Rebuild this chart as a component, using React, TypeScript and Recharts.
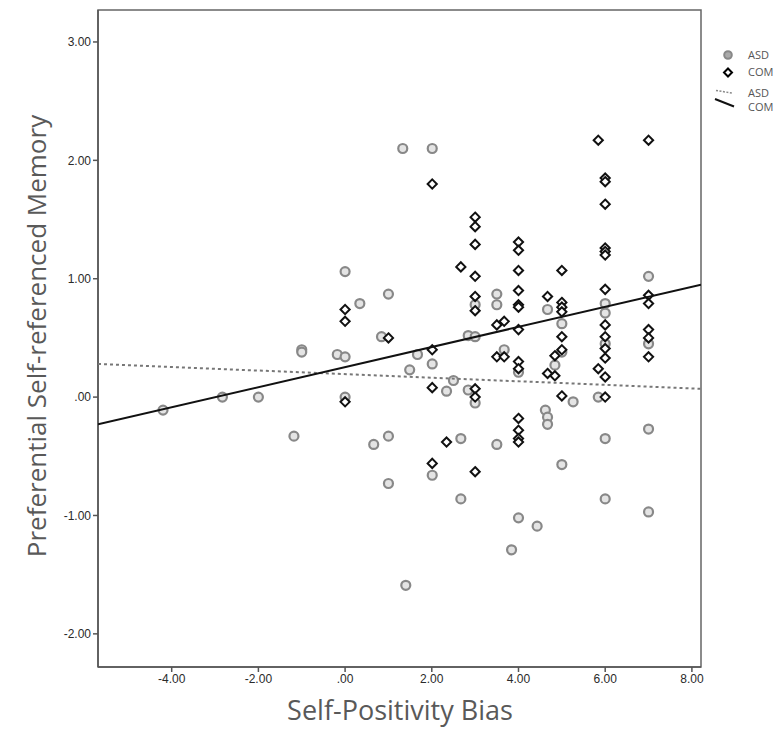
import { ScatterChart, Scatter, XAxis, YAxis, ReferenceArea } from "recharts";

// ASD group (grey circles)
const asdX = [-4.2, -2.83, -2.0, -1.18, -1.0, -1.0, -0.18, 0.0, 0.0, 0.0, 0.34, 0.66, 0.84, 1.0, 1.0, 1.0, 1.33, 2.01, 1.4, 1.49, 1.67, 2.01, 2.01, 2.34, 2.5, 2.67, 2.67, 2.84, 3.0, 2.84, 3.0, 3.0, 3.5, 3.5, 3.67, 3.5, 4.0, 3.84, 4.0, 4.43, 4.62, 4.67, 4.67, 4.67, 4.84, 5.0, 5.0, 5.0, 5.26, 5.84, 6.0, 6.0, 6.0, 6.0, 6.0, 7.0, 7.0, 7.0, 7.0];
const asdY = [-0.11, 0.0, 0.0, -0.33, 0.4, 0.38, 0.36, 0.34, 1.06, 0.0, 0.79, -0.4, 0.51, 0.87, -0.33, -0.73, 2.1, 2.1, -1.59, 0.23, 0.36, 0.28, -0.66, 0.05, 0.14, -0.35, -0.86, 0.52, 0.51, 0.06, -0.05, 0.78, 0.87, 0.78, 0.4, -0.4, 0.21, -1.29, -1.02, -1.09, -0.11, -0.17, -0.23, 0.74, 0.27, 0.62, 0.38, -0.57, -0.04, 0.0, 0.79, 0.71, 0.45, -0.35, -0.86, 1.02, 0.45, -0.27, -0.97];

// COM group (diamonds)
const comX = [0.0, 0.0, 0.0, 1.0, 2.01, 2.01, 2.01, 2.01, 2.34, 2.67, 3.0, 3.0, 3.0, 3.0, 3.0, 3.0, 3.0, 3.0, 3.0, 3.5, 3.67, 3.5, 3.67, 4.0, 4.0, 4.0, 4.0, 4.0, 4.0, 4.0, 4.0, 4.0, 4.0, 4.0, 4.0, 4.0, 4.67, 4.67, 4.84, 4.84, 5.0, 5.0, 5.0, 5.0, 5.0, 5.0, 5.0, 5.84, 5.84, 6.0, 6.0, 6.0, 6.0, 6.0, 6.0, 6.0, 6.0, 6.0, 6.0, 6.0, 6.0, 6.0, 7.0, 7.0, 7.0, 7.0, 7.0, 7.0];
const comY = [0.74, 0.64, -0.04, 0.5, 1.8, 0.4, 0.08, -0.56, -0.38, 1.1, 1.52, 1.44, 1.29, 1.02, 0.85, 0.73, 0.07, 0.0, -0.63, 0.61, 0.64, 0.34, 0.34, 1.31, 1.24, 1.07, 0.9, 0.78, 0.76, 0.57, 0.3, 0.24, -0.18, -0.28, -0.35, -0.38, 0.85, 0.2, 0.35, 0.18, 1.07, 0.8, 0.76, 0.72, 0.51, 0.4, 0.01, 2.17, 0.24, 1.85, 1.82, 1.63, 1.26, 1.23, 1.2, 0.91, 0.61, 0.51, 0.41, 0.33, 0.17, 0.0, 2.17, 0.86, 0.79, 0.57, 0.5, 0.34];

// fit lines (end points at the plot edges)
const fitX = [-5.7, 8.21];
const asdFitY = [0.28, 0.07];
const comFitY = [-0.23, 0.95];

const xTicks = [-4, -2, 0, 2, 4, 6, 8];
const yTicks = [-2, -1, 0, 1, 2, 3];
const xDomain = [-5.7, 8.21];
const yDomain = [-2.28, 3.27];

const asdData = asdX.map((x, i) => ({ x, y: asdY[i] }));
const comData = comX.map((x, i) => ({ x, y: comY[i] }));
const asdFit = fitX.map((x, i) => ({ x, y: asdFitY[i] }));
const comFit = fitX.map((x, i) => ({ x, y: comFitY[i] }));

const fmt = (v: number) => (v === 0 ? ".00" : v.toFixed(2));

const Circle = (p: any) => (
  <circle cx={p.cx} cy={p.cy} r={4.5} fill="#e4e4e4" stroke="#888" strokeWidth={2.2} />
);

const Diamond = (p: any) => {
  const { cx, cy } = p;
  const d = 4.6;
  return (
    <polygon
      points={`${cx},${cy - d} ${cx + d},${cy} ${cx},${cy + d} ${cx - d},${cy}`}
      fill="#fff"
      stroke="#111"
      strokeWidth={2}
    />
  );
};

const font = "'Open Sans', 'Noto Sans', sans-serif";
const tickStyle = { fontSize: 12, fill: "#2a2a2a", fontFamily: "Arial, 'Liberation Sans', sans-serif" };

export default function App() {
  return (
    <div style={{ position: "absolute", left: 0, top: 0, width: 778, height: 739, background: "#fff" }}>
      <ScatterChart width={778} height={739} margin={{ top: 10, right: 77, bottom: 0, left: 0 }}>
        <XAxis
          type="number"
          dataKey="x"
          domain={xDomain}
          ticks={xTicks}
          tickFormatter={fmt}
          allowDataOverflow
          height={72}
          stroke="#555"
          strokeWidth={1.5}
          tickSize={5}
          tick={tickStyle}
        />
        <YAxis
          type="number"
          dataKey="y"
          domain={yDomain}
          ticks={yTicks}
          tickFormatter={fmt}
          allowDataOverflow
          width={98}
          stroke="#555"
          strokeWidth={1.5}
          tickSize={5}
          tick={tickStyle}
        />
        <ReferenceArea x1={xDomain[0]} x2={xDomain[1]} y1={yDomain[0]} y2={yDomain[1]} fill="none" stroke="#666" strokeWidth={1.5} />
        <Scatter data={asdData} shape={Circle} isAnimationActive={false} />
        <Scatter data={comData} shape={Diamond} isAnimationActive={false} />
        <Scatter data={asdFit} line={{ stroke: "#777", strokeWidth: 2, strokeDasharray: "3 3" }} shape={() => null} isAnimationActive={false} />
        <Scatter data={comFit} line={{ stroke: "#111", strokeWidth: 2 }} shape={() => null} isAnimationActive={false} />
      </ScatterChart>

      <div style={{ position: "absolute", left: 0, top: 336, width: 0, height: 0 }}>
        <div
          style={{
            position: "absolute",
            left: 36,
            top: 0,
            transform: "translate(-50%, -50%) rotate(-90deg)",
            whiteSpace: "nowrap",
            fontFamily: font,
            fontSize: 26,
            color: "#595959",
          }}
        >
          Preferential Self-referenced Memory
        </div>
      </div>
      <div
        style={{
          position: "absolute",
          left: 0,
          width: 800,
          top: 691,
          textAlign: "center",
          fontFamily: font,
          fontSize: 27,
          color: "#595959",
        }}
      >
        Self-Positivity Bias
      </div>

      <svg style={{ position: "absolute", left: 705, top: 40 }} width={73} height={80}>
        <circle cx={23} cy={15} r={3.8} fill="#aaa" stroke="#888" strokeWidth={2} />
        <text x={43} y={19} fontSize={11} fill="#555" fontFamily={font}>ASD</text>
        <polygon points="23,28.5 27,32.5 23,36.5 19,32.5" fill="#fff" stroke="#000" strokeWidth={2} />
        <text x={43} y={36} fontSize={11} fill="#555" fontFamily={font}>COM</text>
        <line x1={11} y1={50.5} x2={27} y2={53} stroke="#888" strokeWidth={1.5} strokeDasharray="2 1.5" />
        <text x={43} y={57} fontSize={11} fill="#555" fontFamily={font}>ASD</text>
        <line x1={10} y1={59} x2={29} y2={66.5} stroke="#111" strokeWidth={2} />
        <text x={43} y={71} fontSize={11} fill="#555" fontFamily={font}>COM</text>
      </svg>
    </div>
  );
}
